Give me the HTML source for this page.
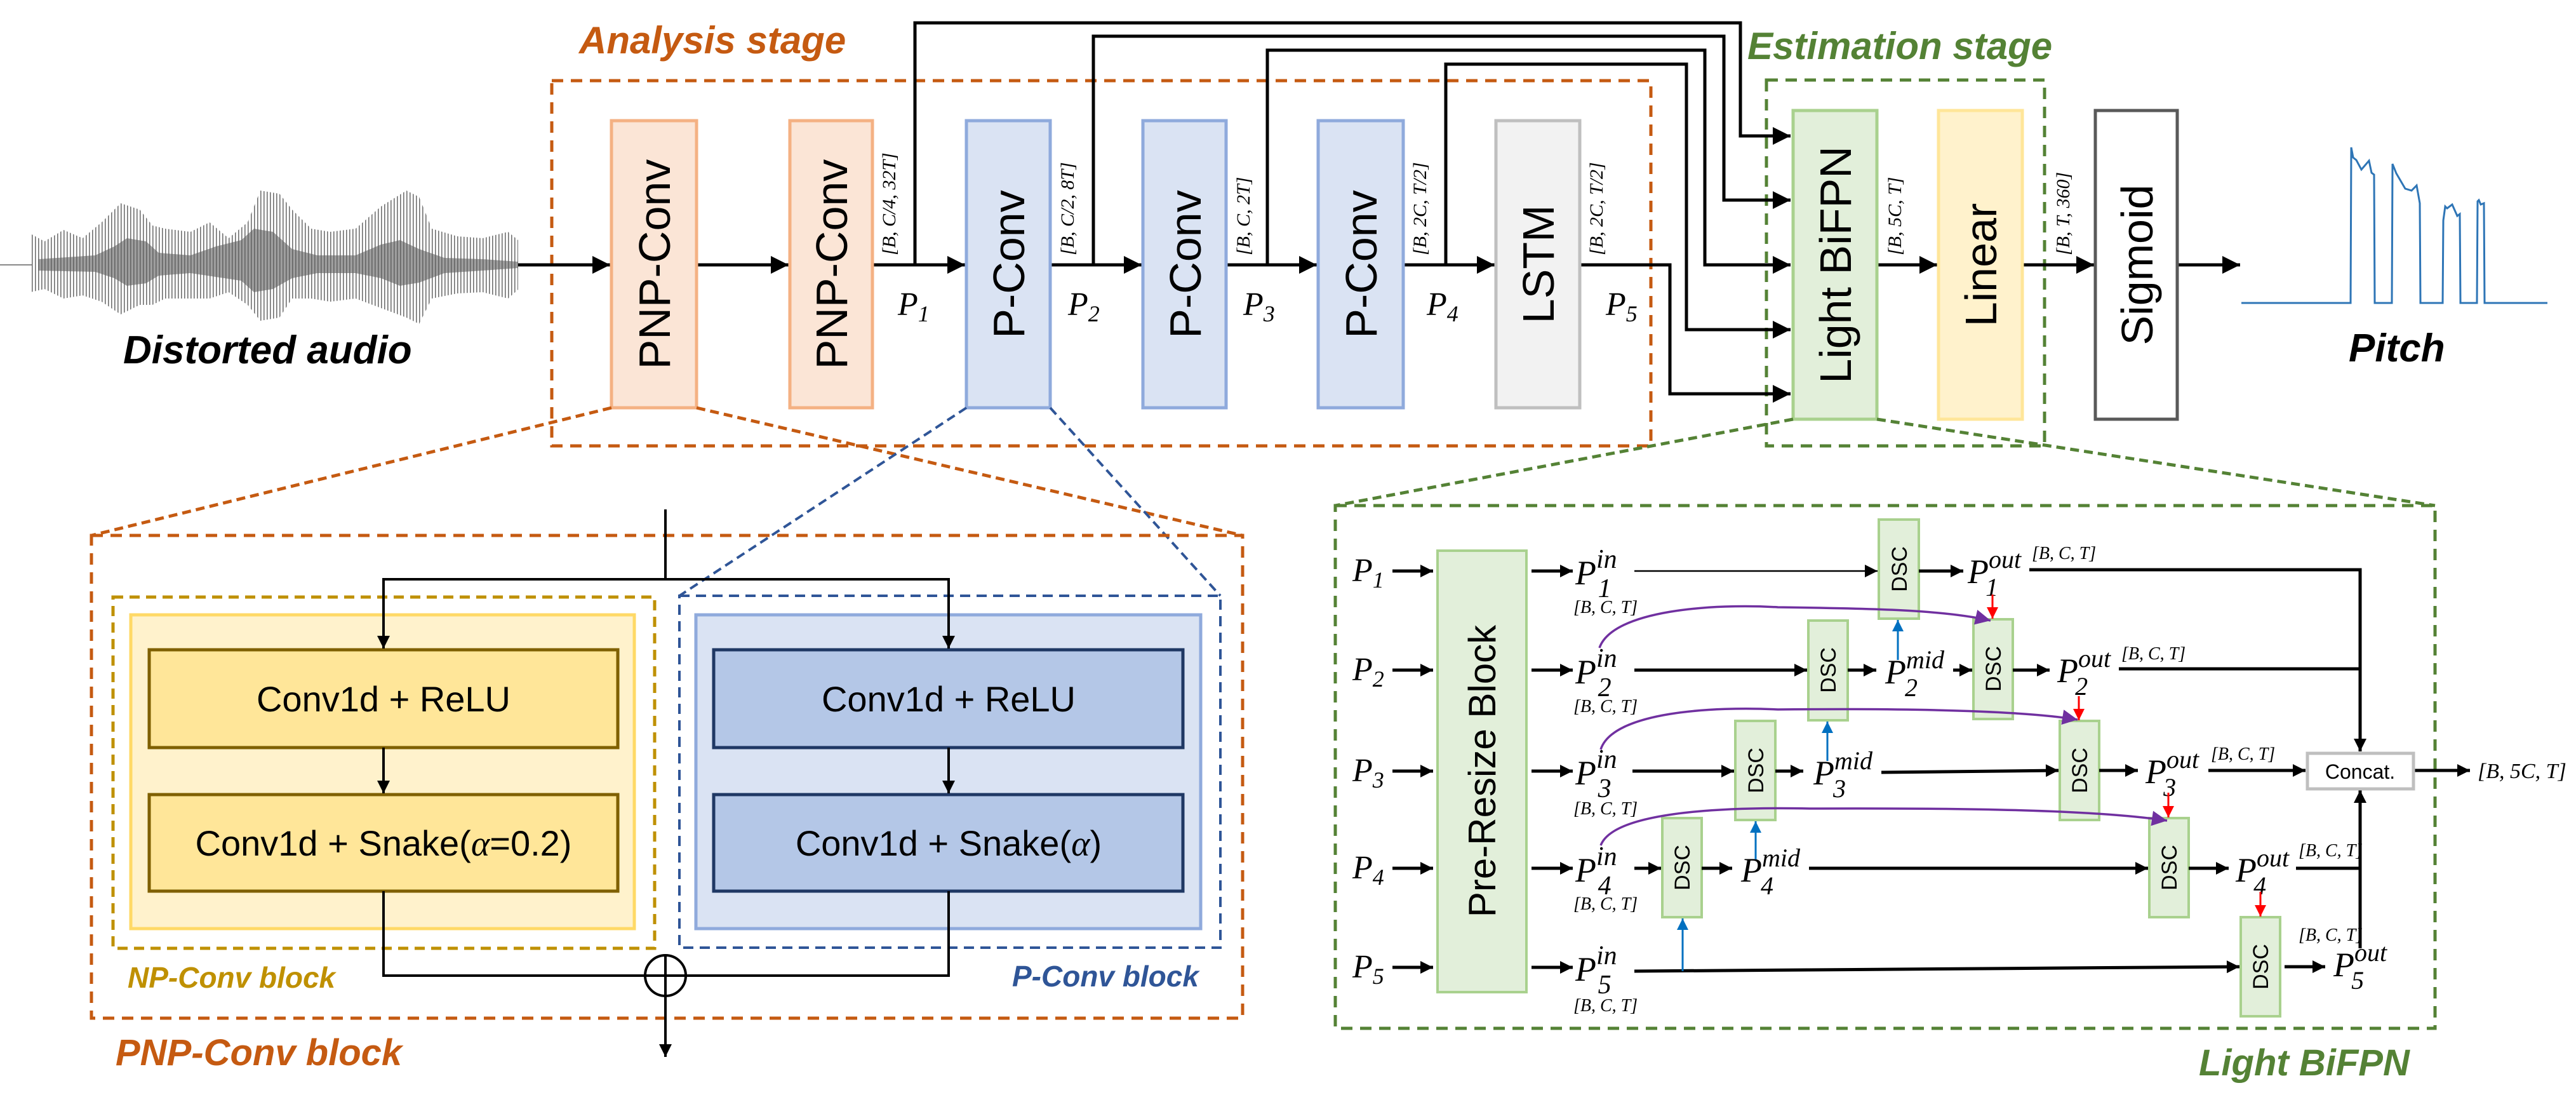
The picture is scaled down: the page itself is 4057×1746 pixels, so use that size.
<!DOCTYPE html>
<html><head><meta charset="utf-8">
<style>
html,body{margin:0;padding:0;background:#fff;}
svg{display:block;}
.box{font-family:"Liberation Sans",sans-serif;}
.it{font-family:"Liberation Serif",serif;font-style:italic;}
.lab{font-family:"Liberation Sans",sans-serif;font-weight:bold;font-style:italic;}
</style></head><body>
<svg width="4057" height="1746" viewBox="0 0 4057 1746" xmlns="http://www.w3.org/2000/svg">
<defs>
<marker id="ah" markerUnits="userSpaceOnUse" viewBox="0 0 10 10" refX="10" refY="5" markerWidth="28" markerHeight="28" orient="auto"><path d="M0,0 L10,5 L0,10 z" fill="#000"/></marker>
<marker id="ahs" markerUnits="userSpaceOnUse" viewBox="0 0 10 10" refX="10" refY="5" markerWidth="22" markerHeight="20" orient="auto"><path d="M0,0 L10,5 L0,10 z" fill="#000"/></marker>
<marker id="ahb" markerUnits="userSpaceOnUse" viewBox="0 0 10 10" refX="10" refY="5" markerWidth="22" markerHeight="18" orient="auto"><path d="M0,0 L10,5 L0,10 z" fill="#0070c0"/></marker>
<marker id="ahr" markerUnits="userSpaceOnUse" viewBox="0 0 10 10" refX="10" refY="5" markerWidth="20" markerHeight="18" orient="auto"><path d="M0,0 L10,5 L0,10 z" fill="#ff0000"/></marker>
<marker id="ahp" markerUnits="userSpaceOnUse" viewBox="0 0 10 10" refX="10" refY="5" markerWidth="26" markerHeight="24" orient="auto"><path d="M0,0 L10,5 L0,10 z" fill="#7030a0"/></marker>
<pattern id="wv" width="5" height="10" patternUnits="userSpaceOnUse"><rect x="0" y="0" width="1.6" height="10" fill="#6f6f6f"/></pattern>
</defs>

<!-- waveform -->
<line x1="0" y1="417" x2="50" y2="417" stroke="#888" stroke-width="2"/>
<polygon fill="url(#wv)" points="48,368 70,380 100,362 130,375 160,350 190,320 220,330 240,355 260,360 300,365 330,350 360,375 390,350 410,300 440,305 460,330 490,360 520,365 560,360 600,325 640,300 660,310 680,360 720,372 760,375 800,365 816,378 816,456 800,470 760,460 720,462 680,470 660,510 640,500 600,485 560,470 520,475 490,470 460,470 440,500 410,505 390,480 360,460 330,470 300,470 260,470 240,480 220,480 190,495 160,475 130,465 100,470 70,455 48,460"/>
<polygon fill="#5e5e5e" opacity="0.6" points="60,408 150,402 180,388 200,375 230,380 250,398 300,402 340,388 380,378 400,360 430,365 460,392 500,402 560,402 600,385 630,378 660,392 700,406 760,408 816,412 816,422 760,426 700,430 660,445 630,450 600,438 560,430 500,430 460,438 430,455 400,460 380,442 340,436 300,430 250,434 230,446 200,450 180,438 150,428 60,426"/>

<text class="lab" x="194" y="572" font-size="62" fill="#000">Distorted audio</text>

<!-- Analysis stage -->
<text class="lab" x="912" y="84" font-size="60" fill="#c55a11">Analysis stage</text>
<rect x="869" y="127" width="1731" height="575" fill="none" stroke="#c55a11" stroke-width="5" stroke-dasharray="18,12"/>

<text class="lab" x="2752" y="93" font-size="60" fill="#548235">Estimation stage</text>
<rect x="2782" y="126" width="438" height="576" fill="none" stroke="#548235" stroke-width="5" stroke-dasharray="18,12"/>

<!-- top wires -->
<g fill="none" stroke="#000" stroke-width="5">
<polyline points="1441,417 1441,36 2741,36 2741,214 2820,214" marker-end="url(#ah)"/>
<polyline points="1722,417 1722,57 2715,57 2715,315 2820,315" marker-end="url(#ah)"/>
<polyline points="1996,417 1996,79 2685,79 2685,417 2820,417" marker-end="url(#ah)"/>
<polyline points="2277,417 2277,101 2656,101 2656,519 2820,519" marker-end="url(#ah)"/>
<polyline points="2488,417 2630,417 2630,620 2820,620" marker-end="url(#ah)"/>
<line x1="816" y1="417" x2="961" y2="417" marker-end="url(#ah)"/>
<line x1="1097" y1="417" x2="1242" y2="417" marker-end="url(#ah)"/>
<line x1="1374" y1="417" x2="1520" y2="417" marker-end="url(#ah)"/>
<line x1="1654" y1="417" x2="1798" y2="417" marker-end="url(#ah)"/>
<line x1="1931" y1="417" x2="2074" y2="417" marker-end="url(#ah)"/>
<line x1="2210" y1="417" x2="2354" y2="417" marker-end="url(#ah)"/>
<line x1="2956" y1="417" x2="3051" y2="417" marker-end="url(#ah)"/>
<line x1="3185" y1="417" x2="3298" y2="417" marker-end="url(#ah)"/>
<line x1="3429" y1="417" x2="3528" y2="417" marker-end="url(#ah)"/>
</g>

<!-- blocks -->
<g class="box" font-size="70" text-anchor="middle">
<rect x="963" y="190" width="134" height="452" fill="#fbe5d6" stroke="#f4b183" stroke-width="5"/>
<text transform="translate(1055,416) rotate(-90)">PNP-Conv</text>
<rect x="1244" y="190" width="130" height="452" fill="#fbe5d6" stroke="#f4b183" stroke-width="5"/>
<text transform="translate(1334,416) rotate(-90)">PNP-Conv</text>
<rect x="1522" y="190" width="132" height="452" fill="#dae3f3" stroke="#8faadc" stroke-width="5"/>
<text transform="translate(1613,416) rotate(-90)">P-Conv</text>
<rect x="1800" y="190" width="131" height="452" fill="#dae3f3" stroke="#8faadc" stroke-width="5"/>
<text transform="translate(1891,416) rotate(-90)">P-Conv</text>
<rect x="2076" y="190" width="134" height="452" fill="#dae3f3" stroke="#8faadc" stroke-width="5"/>
<text transform="translate(2168,416) rotate(-90)">P-Conv</text>
<rect x="2356" y="190" width="132" height="452" fill="#f2f2f2" stroke="#bfbfbf" stroke-width="5"/>
<text transform="translate(2447,416) rotate(-90)">LSTM</text>
<rect x="2824" y="174" width="132" height="486" fill="#e2efda" stroke="#a9d18e" stroke-width="5"/>
<text transform="translate(2915,417) rotate(-90)">Light BiFPN</text>
<rect x="3053" y="174" width="132" height="486" fill="#fff2cc" stroke="#ffe699" stroke-width="5"/>
<text transform="translate(3144,417) rotate(-90)">Linear</text>
<rect x="3300" y="174" width="129" height="486" fill="#fff" stroke="#595959" stroke-width="5"/>
<text transform="translate(3390,417) rotate(-90)">Sigmoid</text>
</g>

<!-- dims -->
<g class="it" font-size="30">
<text transform="translate(1410,402) rotate(-90)">[B, C/4, 32T]</text>
<text transform="translate(1691,402) rotate(-90)">[B, C/2, 8T]</text>
<text transform="translate(1968,402) rotate(-90)">[B, C, 2T]</text>
<text transform="translate(2246,402) rotate(-90)">[B, 2C, T/2]</text>
<text transform="translate(2524,402) rotate(-90)">[B, 2C, T/2]</text>
<text transform="translate(2994,402) rotate(-90)">[B, 5C, T]</text>
<text transform="translate(3259,402) rotate(-90)">[B, T, 360]</text>
</g>
<g class="it" font-size="52">
<text x="1414" y="496">P<tspan font-size="36" dy="10">1</tspan></text>
<text x="1682" y="496">P<tspan font-size="36" dy="10">2</tspan></text>
<text x="1958" y="496">P<tspan font-size="36" dy="10">3</tspan></text>
<text x="2247" y="496">P<tspan font-size="36" dy="10">4</tspan></text>
<text x="2529" y="496">P<tspan font-size="36" dy="10">5</tspan></text>
</g>

<!-- pitch -->
<polyline fill="none" stroke="#2e75b6" stroke-width="3" points="3530,477 3702,477 3703,232 3706,248 3711,252 3719,267 3731,253 3735,272 3739,275 3740,477 3767,477 3768,258 3774,273 3788,297 3798,300 3806,292 3811,320 3812,477 3847,477 3848,347 3851,325 3854,328 3862,322 3870,340 3874,337 3875,477 3901,477 3902,317 3904,315 3907,322 3912,320 3913,477 4012,477"/>
<text class="lab" x="3699" y="569" font-size="62">Pitch</text>

<!-- zoom lines -->
<g fill="none" stroke-width="5" stroke-dasharray="14,8">
<line x1="963" y1="642" x2="144" y2="843" stroke="#c55a11"/>
<line x1="1097" y1="642" x2="1957" y2="843" stroke="#c55a11"/>
<line x1="1522" y1="642" x2="1070" y2="938" stroke="#2f5597" stroke-width="4"/>
<line x1="1654" y1="642" x2="1922" y2="938" stroke="#2f5597" stroke-width="4"/>
<line x1="2824" y1="660" x2="2103" y2="796" stroke="#548235"/>
<line x1="2956" y1="660" x2="3835" y2="796" stroke="#548235"/>
</g>

<!-- PNP-Conv block detail -->
<rect x="144" y="843" width="1813" height="760" fill="none" stroke="#c55a11" stroke-width="5" stroke-dasharray="18,12"/>
<rect x="178" y="940" width="853" height="553" fill="none" stroke="#bf9000" stroke-width="5" stroke-dasharray="16,10"/>
<rect x="206" y="968" width="793" height="494" fill="#fff2cc" stroke="#ffd966" stroke-width="5"/>
<rect x="1070" y="938" width="852" height="554" fill="none" stroke="#2f5597" stroke-width="4" stroke-dasharray="16,10"/>
<rect x="1096" y="968" width="795" height="494" fill="#dae3f3" stroke="#8faadc" stroke-width="5"/>
<g class="box" font-size="56" text-anchor="middle">
<rect x="235" y="1023" width="738" height="154" fill="#ffe699" stroke="#7f6000" stroke-width="5"/>
<text x="604" y="1120">Conv1d + ReLU</text>
<rect x="235" y="1251" width="738" height="152" fill="#ffe699" stroke="#7f6000" stroke-width="5"/>
<text x="604" y="1347">Conv1d + Snake(<tspan class="it">α</tspan>=0.2)</text>
<rect x="1124" y="1023" width="739" height="154" fill="#b4c7e7" stroke="#1f3864" stroke-width="5"/>
<text x="1494" y="1120">Conv1d + ReLU</text>
<rect x="1124" y="1251" width="739" height="152" fill="#b4c7e7" stroke="#1f3864" stroke-width="5"/>
<text x="1494" y="1347">Conv1d + Snake(<tspan class="it">α</tspan>)</text>
</g>
<g fill="none" stroke="#000" stroke-width="4">
<line x1="1048" y1="802" x2="1048" y2="912"/>
<polyline points="604,1021 604,912 1494,912 1494,1021"/>
<line x1="604" y1="912" x2="604" y2="1021" marker-end="url(#ahs)"/>
<line x1="1494" y1="912" x2="1494" y2="1021" marker-end="url(#ahs)"/>
<line x1="604" y1="1177" x2="604" y2="1249" marker-end="url(#ahs)"/>
<line x1="1494" y1="1177" x2="1494" y2="1249" marker-end="url(#ahs)"/>
<polyline points="604,1403 604,1536 1494,1536 1494,1403"/>
<circle cx="1048" cy="1536" r="32" fill="#fff"/>
<line x1="1016" y1="1536" x2="1080" y2="1536"/>
<line x1="1048" y1="1504" x2="1048" y2="1568"/>
<line x1="1048" y1="1568" x2="1048" y2="1664" marker-end="url(#ahs)"/>
</g>
<text class="lab" x="201" y="1555" font-size="46" fill="#bf9000">NP-Conv block</text>
<text class="lab" x="1594" y="1553" font-size="46" fill="#2f5597">P-Conv block</text>
<text class="lab" x="182" y="1677" font-size="58" fill="#c55a11">PNP-Conv block</text>

<!-- Light BiFPN detail -->
<rect x="2103" y="796" width="1732" height="823" fill="none" stroke="#548235" stroke-width="5" stroke-dasharray="18,12"/>
<text class="lab" x="3463" y="1693" font-size="58" fill="#548235">Light BiFPN</text>

<rect x="2264" y="867" width="140" height="695" fill="#e2efda" stroke="#a9d18e" stroke-width="4"/>
<text class="box" font-size="60" text-anchor="middle" transform="translate(2355,1214) rotate(-90)">Pre-Resize Block</text>

<g class="it" font-size="52">
<text x="2130" y="915">P<tspan font-size="36" dy="10">1</tspan></text>
<text x="2130" y="1071">P<tspan font-size="36" dy="10">2</tspan></text>
<text x="2130" y="1230">P<tspan font-size="36" dy="10">3</tspan></text>
<text x="2130" y="1383">P<tspan font-size="36" dy="10">4</tspan></text>
<text x="2130" y="1539">P<tspan font-size="36" dy="10">5</tspan></text>
</g>
<g stroke="#000" stroke-width="5">
<line x1="2193" y1="899" x2="2257" y2="899" marker-end="url(#ahs)"/>
<line x1="2193" y1="1055" x2="2257" y2="1055" marker-end="url(#ahs)"/>
<line x1="2193" y1="1214" x2="2257" y2="1214" marker-end="url(#ahs)"/>
<line x1="2193" y1="1367" x2="2257" y2="1367" marker-end="url(#ahs)"/>
<line x1="2193" y1="1523" x2="2257" y2="1523" marker-end="url(#ahs)"/>
<line x1="2412" y1="899" x2="2477" y2="899" marker-end="url(#ahs)"/>
<line x1="2412" y1="1055" x2="2477" y2="1055" marker-end="url(#ahs)"/>
<line x1="2412" y1="1214" x2="2477" y2="1214" marker-end="url(#ahs)"/>
<line x1="2412" y1="1367" x2="2477" y2="1367" marker-end="url(#ahs)"/>
<line x1="2412" y1="1523" x2="2477" y2="1523" marker-end="url(#ahs)"/>
</g>
<g class="it" font-size="54">
<text x="2481" y="920">P<tspan font-size="42" dy="-26">in</tspan><tspan font-size="42" dx="-30" dy="46">1</tspan></text>
<text x="2481" y="1076">P<tspan font-size="42" dy="-26">in</tspan><tspan font-size="42" dx="-30" dy="46">2</tspan></text>
<text x="2481" y="1235">P<tspan font-size="42" dy="-26">in</tspan><tspan font-size="42" dx="-30" dy="46">3</tspan></text>
<text x="2481" y="1388">P<tspan font-size="42" dy="-26">in</tspan><tspan font-size="42" dx="-30" dy="46">4</tspan></text>
<text x="2481" y="1544">P<tspan font-size="42" dy="-26">in</tspan><tspan font-size="42" dx="-30" dy="46">5</tspan></text>
<text x="2969" y="1076">P<tspan font-size="40" dy="-24">mid</tspan><tspan font-size="40" dx="-62" dy="44">2</tspan></text>
<text x="2856" y="1235">P<tspan font-size="40" dy="-24">mid</tspan><tspan font-size="40" dx="-62" dy="44">3</tspan></text>
<text x="2742" y="1388">P<tspan font-size="40" dy="-24">mid</tspan><tspan font-size="40" dx="-62" dy="44">4</tspan></text>
<text x="3099" y="918">P<tspan font-size="40" dy="-24">out</tspan><tspan font-size="40" dx="-56" dy="44">1</tspan></text>
<text x="3240" y="1074">P<tspan font-size="40" dy="-24">out</tspan><tspan font-size="40" dx="-56" dy="44">2</tspan></text>
<text x="3379" y="1233">P<tspan font-size="40" dy="-24">out</tspan><tspan font-size="40" dx="-56" dy="44">3</tspan></text>
<text x="3521" y="1388">P<tspan font-size="40" dy="-24">out</tspan><tspan font-size="40" dx="-56" dy="44">4</tspan></text>
<text x="3675" y="1537">P<tspan font-size="40" dy="-24">out</tspan><tspan font-size="40" dx="-56" dy="44">5</tspan></text>
</g>
<g class="it" font-size="28">
<text x="2478" y="965">[B, C, T]</text>
<text x="2478" y="1121">[B, C, T]</text>
<text x="2478" y="1282">[B, C, T]</text>
<text x="2478" y="1432">[B, C, T]</text>
<text x="2478" y="1592">[B, C, T]</text>
<text x="3200" y="880">[B, C, T]</text>
<text x="3341" y="1038">[B, C, T]</text>
<text x="3482" y="1196">[B, C, T]</text>
<text x="3620" y="1348">[B, C, T]</text>
<text x="3620" y="1481">[B, C, T]</text>
<text x="3902" y="1225" font-size="34">[B, 5C, T]</text>
</g>

<!-- DSC boxes -->
<g class="box" font-size="34" text-anchor="middle">
<rect x="2959" y="818" width="63" height="156" fill="#e2efda" stroke="#a9d18e" stroke-width="4"/>
<text transform="translate(3003,896) rotate(-90)">DSC</text>
<rect x="2848" y="977" width="62" height="157" fill="#e2efda" stroke="#a9d18e" stroke-width="4"/>
<text transform="translate(2891,1055) rotate(-90)">DSC</text>
<rect x="3108" y="975" width="62" height="157" fill="#e2efda" stroke="#a9d18e" stroke-width="4"/>
<text transform="translate(3151,1053) rotate(-90)">DSC</text>
<rect x="2733" y="1135" width="63" height="156" fill="#e2efda" stroke="#a9d18e" stroke-width="4"/>
<text transform="translate(2777,1213) rotate(-90)">DSC</text>
<rect x="3244" y="1135" width="62" height="156" fill="#e2efda" stroke="#a9d18e" stroke-width="4"/>
<text transform="translate(3287,1213) rotate(-90)">DSC</text>
<rect x="2618" y="1288" width="62" height="156" fill="#e2efda" stroke="#a9d18e" stroke-width="4"/>
<text transform="translate(2661,1366) rotate(-90)">DSC</text>
<rect x="3385" y="1288" width="62" height="156" fill="#e2efda" stroke="#a9d18e" stroke-width="4"/>
<text transform="translate(3428,1366) rotate(-90)">DSC</text>
<rect x="3529" y="1444" width="62" height="156" fill="#e2efda" stroke="#a9d18e" stroke-width="4"/>
<text transform="translate(3572,1522) rotate(-90)">DSC</text>
</g>

<!-- BiFPN connectors -->
<g fill="none" stroke="#000" stroke-width="5">
<line x1="2574" y1="899" x2="2957" y2="899" stroke-width="2.5" marker-end="url(#ahs)"/>
<line x1="3022" y1="899" x2="3092" y2="899" marker-end="url(#ahs)"/>
<polyline points="3196,897 3717,897 3717,1183" marker-end="url(#ahs)"/>
<line x1="2574" y1="1055" x2="2846" y2="1055" marker-end="url(#ahs)"/>
<line x1="2910" y1="1055" x2="2955" y2="1055" marker-end="url(#ahs)"/>
<line x1="3076" y1="1055" x2="3106" y2="1055" marker-end="url(#ahs)"/>
<line x1="3170" y1="1055" x2="3228" y2="1055" marker-end="url(#ahs)"/>
<line x1="3337" y1="1053" x2="3717" y2="1053"/>
<line x1="2571" y1="1214" x2="2731" y2="1214" marker-end="url(#ahs)"/>
<line x1="2796" y1="1214" x2="2840" y2="1214" marker-end="url(#ahs)"/>
<line x1="2963" y1="1216" x2="3242" y2="1213" marker-end="url(#ahs)"/>
<line x1="3306" y1="1213" x2="3367" y2="1213" marker-end="url(#ahs)"/>
<line x1="3478" y1="1213" x2="3631" y2="1213" marker-end="url(#ahs)"/>
<line x1="3802" y1="1213" x2="3890" y2="1213" marker-end="url(#ahs)"/>
<line x1="2574" y1="1367" x2="2616" y2="1367" marker-end="url(#ahs)"/>
<line x1="2680" y1="1367" x2="2728" y2="1367" marker-end="url(#ahs)"/>
<line x1="2849" y1="1367" x2="3383" y2="1367" marker-end="url(#ahs)"/>
<line x1="3447" y1="1367" x2="3510" y2="1367" marker-end="url(#ahs)"/>
<line x1="3616" y1="1367" x2="3717" y2="1367"/>
<line x1="2574" y1="1529" x2="3527" y2="1522" marker-end="url(#ahs)"/>
<line x1="3598" y1="1522" x2="3662" y2="1522" marker-end="url(#ahs)"/>
<line x1="3717" y1="1493" x2="3717" y2="1244" marker-end="url(#ahs)"/>
</g>
<rect x="3634" y="1186" width="167" height="56" fill="#fff" stroke="#bfbfbf" stroke-width="5"/>
<text class="box" x="3717" y="1226" font-size="32" text-anchor="middle">Concat.</text>

<!-- blue arrows -->
<g stroke="#0070c0" stroke-width="3">
<line x1="2989" y1="1039" x2="2989" y2="976" marker-end="url(#ahb)"/>
<line x1="2878" y1="1198" x2="2878" y2="1136" marker-end="url(#ahb)"/>
<line x1="2765" y1="1353" x2="2765" y2="1293" marker-end="url(#ahb)"/>
<line x1="2650" y1="1529" x2="2650" y2="1446" marker-end="url(#ahb)"/>
</g>
<!-- red arrows -->
<g stroke="#ff0000" stroke-width="3">
<line x1="3138" y1="936" x2="3138" y2="974" marker-end="url(#ahr)"/>
<line x1="3274" y1="1096" x2="3274" y2="1134" marker-end="url(#ahr)"/>
<line x1="3415" y1="1248" x2="3415" y2="1287" marker-end="url(#ahr)"/>
<line x1="3560" y1="1404" x2="3560" y2="1443" marker-end="url(#ahr)"/>
</g>
<!-- purple arcs -->
<g fill="none" stroke="#7030a0" stroke-width="3.5">
<path d="M2519,1020 C2540,960 2700,950 2800,956 C2950,958 3060,960 3135,977" marker-end="url(#ahp)"/>
<path d="M2521,1180 C2540,1120 2700,1112 2800,1117 C3000,1115 3180,1118 3272,1133" marker-end="url(#ahp)"/>
<path d="M2521,1331 C2540,1280 2700,1270 2850,1273 C3100,1272 3300,1275 3413,1292" marker-end="url(#ahp)"/>
</g>
</svg>
</body></html>
